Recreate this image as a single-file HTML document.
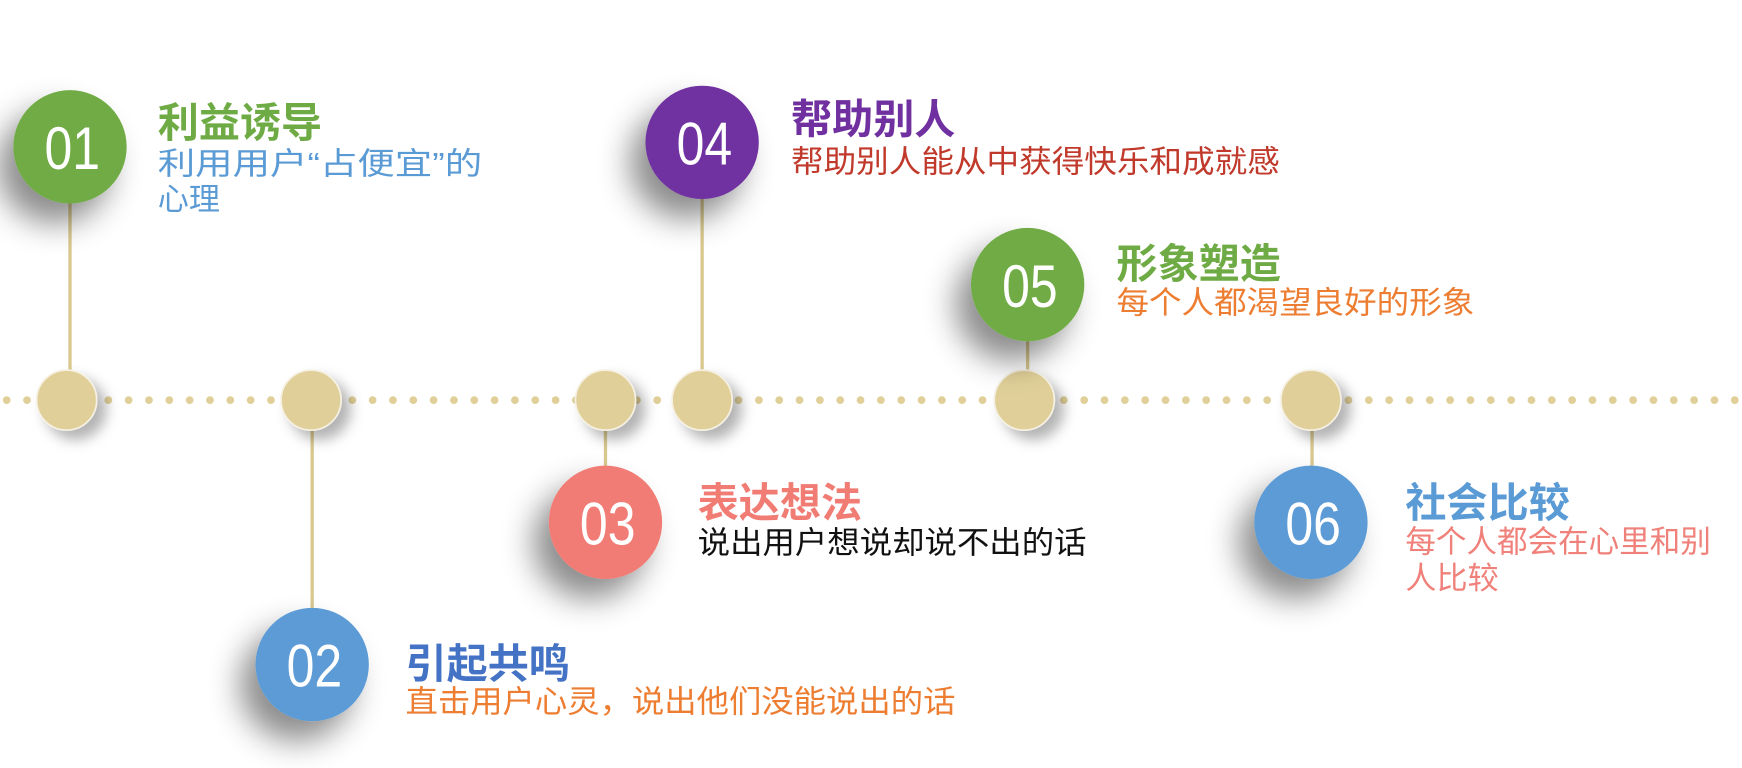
<!DOCTYPE html>
<html><head><meta charset="utf-8"><style>
html,body{margin:0;padding:0;background:#fff;width:1742px;height:768px;overflow:hidden}
svg text{font-family:"Liberation Sans","Noto Sans CJK SC",sans-serif}
</style></head><body>
<svg width="1742" height="768" viewBox="0 0 1568 691" xmlns="http://www.w3.org/2000/svg">
<defs>
<filter id="sh" x="-100%" y="-100%" width="300%" height="300%">
<feDropShadow dx="-14" dy="18" stdDeviation="14" flood-color="#000" flood-opacity="0.45"/>
</filter>
<filter id="sh2" x="-100%" y="-100%" width="300%" height="300%">
<feDropShadow dx="8" dy="8" stdDeviation="6" flood-color="#000" flood-opacity="0.3"/>
</filter>
</defs>
<line x1="6" y1="360" x2="1568" y2="360" stroke="#e0cf98" stroke-width="7" stroke-linecap="round" stroke-dasharray="0 18.3"/>
<g stroke="#d9c98f" stroke-width="3">
<line x1="63" y1="180" x2="63" y2="340"/>
<line x1="281" y1="380" x2="281" y2="552"/>
<line x1="545" y1="380" x2="545" y2="422"/>
<line x1="632" y1="175" x2="632" y2="340"/>
<line x1="925" y1="300" x2="925" y2="340"/>
<line x1="1181" y1="380" x2="1181" y2="422"/>
</g>
<g fill="#e0cf98" stroke="#f5f0e2" stroke-width="1.5" filter="url(#sh2)">
<circle cx="60" cy="360" r="27"/><circle cx="280" cy="360" r="27"/>
<circle cx="545" cy="360" r="27"/><circle cx="632" cy="360" r="27"/>
<circle cx="922" cy="360" r="27"/><circle cx="1180" cy="360" r="27"/>
</g>
<g filter="url(#sh)">
<circle cx="63" cy="132" r="51" fill="#6fab45"/>
<circle cx="281" cy="598" r="51" fill="#5b9bd5"/>
<circle cx="545" cy="470" r="51" fill="#f07c74"/>
<circle cx="632" cy="128" r="51" fill="#7030a0"/>
<circle cx="925" cy="256" r="51" fill="#6fab45"/>
<circle cx="1180" cy="470" r="51" fill="#5b9bd5"/>
</g>
<g fill="#fff" font-size="54" text-anchor="middle" style="font-weight:300">
<text x="65" y="152" textLength="50" lengthAdjust="spacingAndGlyphs">01</text>
<text x="283" y="618" textLength="50" lengthAdjust="spacingAndGlyphs">02</text>
<text x="547" y="490" textLength="50" lengthAdjust="spacingAndGlyphs">03</text>
<text x="634" y="148" textLength="50" lengthAdjust="spacingAndGlyphs">04</text>
<text x="927" y="276" textLength="50" lengthAdjust="spacingAndGlyphs">05</text>
<text x="1182" y="490" textLength="50" lengthAdjust="spacingAndGlyphs">06</text>
</g>
<g font-size="37" font-weight="bold">
<text x="142" y="123" fill="#6fab45">利益诱导</text>
<text x="712" y="120" fill="#7030a0">帮助别人</text>
<text x="1005" y="250" fill="#6fab45">形象塑造</text>
<text x="628" y="465" fill="#f07c74">表达想法</text>
<text x="1265" y="465" fill="#5b9bd5">社会比较</text>
<text x="365" y="610" fill="#4472c4">引起共鸣</text>
</g>
<g font-size="28">
<text x="142" y="157" fill="#5b9bd5" textLength="292" lengthAdjust="spacingAndGlyphs">利用用户“占便宜”的</text>
<text x="142" y="189" fill="#5b9bd5">心理</text>
<text x="712" y="155" fill="#c0392b" textLength="440" lengthAdjust="spacingAndGlyphs">帮助别人能从中获得快乐和成就感</text>
<text x="1005" y="282" fill="#ed7d31" textLength="322" lengthAdjust="spacingAndGlyphs">每个人都渴望良好的形象</text>
<text x="628" y="498" fill="#111" textLength="350" lengthAdjust="spacingAndGlyphs">说出用户想说却说不出的话</text>
<text x="1265" y="497" fill="#f0807a" textLength="275" lengthAdjust="spacingAndGlyphs">每个人都会在心里和别</text>
<text x="1265" y="530" fill="#f0807a">人比较</text>
<text x="365" y="641" fill="#ed7d31" textLength="495" lengthAdjust="spacingAndGlyphs">直击用户心灵，说出他们没能说出的话</text>
</g>
</svg>
</body></html>
